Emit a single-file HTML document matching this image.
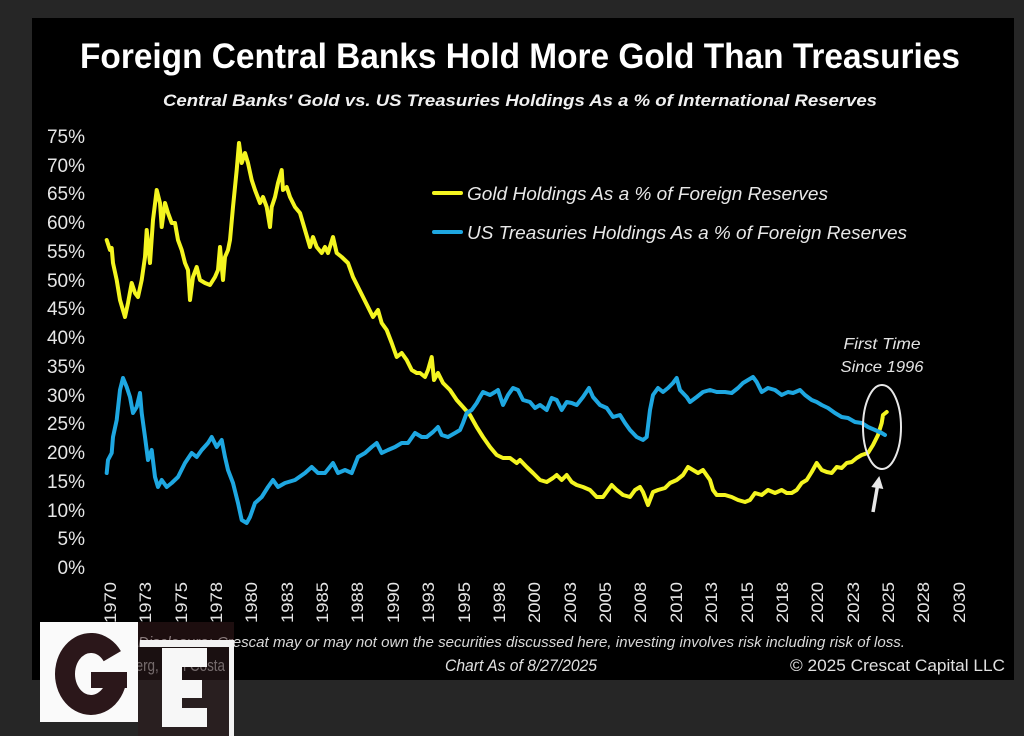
<!DOCTYPE html>
<html>
<head>
<meta charset="utf-8">
<style>
  html,body{margin:0;padding:0;background:#262626;}
  svg{display:block;}
  text{font-family:"Liberation Sans", "DejaVu Sans", sans-serif;}
</style>
</head>
<body>
<svg width="1024" height="736" viewBox="0 0 1024 736" xmlns="http://www.w3.org/2000/svg">
  <rect x="0" y="0" width="1024" height="736" fill="#262626"/>
  <rect x="32" y="18" width="982" height="662" fill="#000"/>

  <!-- Title -->
  <text x="520" y="68" text-anchor="middle" font-size="35" font-weight="bold" fill="#fff" textLength="880" lengthAdjust="spacingAndGlyphs">Foreign Central Banks Hold More Gold Than Treasuries</text>
  <text x="520" y="106" text-anchor="middle" font-size="17" font-weight="bold" font-style="italic" fill="#f0f0f0" textLength="714" lengthAdjust="spacingAndGlyphs">Central Banks' Gold vs. US Treasuries Holdings As a % of International Reserves</text>

  <!-- Y axis labels -->
  <g font-size="19" fill="#e6e6e6" text-anchor="end">
    <text x="85" y="143">75%</text>
    <text x="85" y="172">70%</text>
    <text x="85" y="200">65%</text>
    <text x="85" y="229">60%</text>
    <text x="85" y="258">55%</text>
    <text x="85" y="287">50%</text>
    <text x="85" y="315">45%</text>
    <text x="85" y="344">40%</text>
    <text x="85" y="373">35%</text>
    <text x="85" y="402">30%</text>
    <text x="85" y="430">25%</text>
    <text x="85" y="459">20%</text>
    <text x="85" y="488">15%</text>
    <text x="85" y="517">10%</text>
    <text x="85" y="545">5%</text>
    <text x="85" y="574">0%</text>
  </g>

  <!-- X axis labels -->
  <g font-size="17" fill="#e6e6e6">
    <text transform="translate(116,623) rotate(-90)" textLength="41" lengthAdjust="spacingAndGlyphs">1970</text>
    <text transform="translate(151,623) rotate(-90)" textLength="41" lengthAdjust="spacingAndGlyphs">1973</text>
    <text transform="translate(187,623) rotate(-90)" textLength="41" lengthAdjust="spacingAndGlyphs">1975</text>
    <text transform="translate(222,623) rotate(-90)" textLength="41" lengthAdjust="spacingAndGlyphs">1978</text>
    <text transform="translate(257,623) rotate(-90)" textLength="41" lengthAdjust="spacingAndGlyphs">1980</text>
    <text transform="translate(293,623) rotate(-90)" textLength="41" lengthAdjust="spacingAndGlyphs">1983</text>
    <text transform="translate(328,623) rotate(-90)" textLength="41" lengthAdjust="spacingAndGlyphs">1985</text>
    <text transform="translate(363,623) rotate(-90)" textLength="41" lengthAdjust="spacingAndGlyphs">1988</text>
    <text transform="translate(399,623) rotate(-90)" textLength="41" lengthAdjust="spacingAndGlyphs">1990</text>
    <text transform="translate(434,623) rotate(-90)" textLength="41" lengthAdjust="spacingAndGlyphs">1993</text>
    <text transform="translate(470,623) rotate(-90)" textLength="41" lengthAdjust="spacingAndGlyphs">1995</text>
    <text transform="translate(505,623) rotate(-90)" textLength="41" lengthAdjust="spacingAndGlyphs">1998</text>
    <text transform="translate(540,623) rotate(-90)" textLength="41" lengthAdjust="spacingAndGlyphs">2000</text>
    <text transform="translate(576,623) rotate(-90)" textLength="41" lengthAdjust="spacingAndGlyphs">2003</text>
    <text transform="translate(611,623) rotate(-90)" textLength="41" lengthAdjust="spacingAndGlyphs">2005</text>
    <text transform="translate(646,623) rotate(-90)" textLength="41" lengthAdjust="spacingAndGlyphs">2008</text>
    <text transform="translate(682,623) rotate(-90)" textLength="41" lengthAdjust="spacingAndGlyphs">2010</text>
    <text transform="translate(717,623) rotate(-90)" textLength="41" lengthAdjust="spacingAndGlyphs">2013</text>
    <text transform="translate(753,623) rotate(-90)" textLength="41" lengthAdjust="spacingAndGlyphs">2015</text>
    <text transform="translate(788,623) rotate(-90)" textLength="41" lengthAdjust="spacingAndGlyphs">2018</text>
    <text transform="translate(823,623) rotate(-90)" textLength="41" lengthAdjust="spacingAndGlyphs">2020</text>
    <text transform="translate(859,623) rotate(-90)" textLength="41" lengthAdjust="spacingAndGlyphs">2023</text>
    <text transform="translate(894,623) rotate(-90)" textLength="41" lengthAdjust="spacingAndGlyphs">2025</text>
    <text transform="translate(929,623) rotate(-90)" textLength="41" lengthAdjust="spacingAndGlyphs">2028</text>
    <text transform="translate(965,623) rotate(-90)" textLength="41" lengthAdjust="spacingAndGlyphs">2030</text>
  </g>

  <!-- Gold series -->
  <polyline fill="none" stroke="#f4f520" stroke-width="4" stroke-linejoin="round" stroke-linecap="round" points="
106.7,240 110,250 111.7,248 113,263 116.7,280 120,300 125,317 128,303 131.7,283 135,293 138,297 141.7,280 145,257 146.7,230 150,263 153,220 156.7,190 160,203 161.7,227 165,203 168,213 171.7,223 175,223 178,240 181.7,250 185,263 188,270 190,300 193,277 196.7,267 200,280 205,283 210,285 215,277 218,270 220,247 223,280 225,257 228,250 230,240 233,207 236.7,170 239,143 241.7,163 245,153 248,163 251.7,180 255,190 260,203 263,197 266.7,207 270,227 271.7,207 275,197 278,183 281.7,170 283,190 286.7,187 290,197 295,207 300,213 305,230 310,247 313,237 316.7,247 321.7,253 325,247 328,253 333,237 336.7,253 341.7,257 348,263 353,277 358,287 363,297 368,307 373,317 378,310 381.7,323 386.7,330 391.7,343 396.7,357 401.7,353 406.7,360 411.7,370 416.7,373 420,373 425,377 428,370 431.7,357 434,380 438,373 443,383 450,390 456.7,400 463,407 470,415 476.7,427 483,437 490,447 496.7,455 503,458 510,458 516.7,463 520,460 526.7,467 533,473 540,480 546.7,482 553,478 556.7,475 561.7,480 566.7,475 571.7,482 576.7,485 583,487 590,490 596.7,497 603,497 611.7,485 616.7,490 623,495 630,497 635,490 640,487 643,492 648,505 653,492 658,490 665,488 670,483 676.7,480 683,475 688,467 693,470 698,473 703,470 710,480 713,490 716.7,495 720,495 725,495 731.7,497 738,500 745,502 750,500 755,493 761.7,495 768,490 775,493 781.7,490 786.7,493 791.7,493 796.7,490 801.7,483 806.7,480 811.7,472 816.7,463 821.7,470 826.7,472 831.7,473 836.7,467 841.7,468 846.7,463 851.7,462 856.7,458 861.7,455 868,453 873,445 878,435 881.7,423 883,415 886.7,412"/>

  <!-- Treasuries series -->
  <polyline fill="none" stroke="#1ea7e1" stroke-width="4" stroke-linejoin="round" stroke-linecap="round" points="
106.7,473 108,460 111.7,453 113,437 116.7,420 120,390 123,378 126.7,387 130,397 133,413 136.7,407 140,393 141.7,413 145,437 148,460 151.7,450 155,477 158,487 161.7,480 166.7,487 171.7,483 178,477 185,463 191.7,453 196.7,457 201.7,450 208,443 211.7,437 216.7,447 221.7,440 225,457 228,470 233,483 238,503 241.7,520 246.7,523 250,517 255,503 261.7,497 268,487 273,480 278,487 285,483 295,480 305,473 311.7,467 318,473 325,473 333,463 338,473 345,470 351.7,473 358,457 365,453 371.7,447 376.7,443 381.7,453 388,450 395,447 401.7,443 408,443 415,433 421.7,437 426.7,437 433,432 438,427 441.7,435 448,437 455,433 460,430 463,423 466.7,413 471.7,410 476.7,403 480,397 483,392 490,395 495,392 498,390 503,405 508,395 513,388 518,390 523,400 530,402 535,408 540,405 546.7,410 551.7,398 556.7,400 561.7,410 566.7,402 571.7,403 576.7,405 583,397 589,388 593,397 600,405 606.7,408 613,417 620,415 625,423 630,430 636.7,437 643,440 646.7,437 650,410 653,395 658,388 663,392 668,388 673,383 676.7,378 680,390 686.7,397 690,402 696.7,397 703,392 710,390 716.7,392 720,392 725,392 731.7,393 738,388 743,383 748,380 753,377 756.7,382 761.7,392 768,388 775,390 781.7,395 788,392 793,393 800,390 805,395 811.7,400 816.7,402 821.7,405 828,408 835,413 841.7,417 848,418 855,422 861.7,423 868,427 875,430 881.7,433 885,435"/>

  <!-- Legend -->
  <line x1="434" y1="193" x2="461" y2="193" stroke="#f4f520" stroke-width="4" stroke-linecap="round"/>
  <line x1="434" y1="232" x2="461" y2="232" stroke="#1ea7e1" stroke-width="4" stroke-linecap="round"/>
  <text x="467" y="200" font-size="18" font-style="italic" fill="#e8e8e8" textLength="361" lengthAdjust="spacingAndGlyphs">Gold Holdings As a % of Foreign Reserves</text>
  <text x="467" y="239" font-size="18" font-style="italic" fill="#e8e8e8" textLength="440" lengthAdjust="spacingAndGlyphs">US Treasuries Holdings As a % of Foreign Reserves</text>

  <!-- Annotation -->
  <text x="882" y="349" text-anchor="middle" font-size="16" font-style="italic" fill="#e4e4e4" textLength="77" lengthAdjust="spacingAndGlyphs">First Time</text>
  <text x="882" y="372" text-anchor="middle" font-size="16" font-style="italic" fill="#e4e4e4" textLength="83" lengthAdjust="spacingAndGlyphs">Since 1996</text>
  <ellipse cx="882" cy="427" rx="19" ry="42" fill="none" stroke="#e8e8e8" stroke-width="2"/>
  <line x1="873" y1="512" x2="877.5" y2="486" stroke="#e8e8e8" stroke-width="3.5"/>
  <polygon points="879.3,476 883.3,489 871.3,487" fill="#e8e8e8"/>

  <!-- Footer -->
  <text x="138" y="647" font-size="15" font-style="italic" fill="#d8d8d8" textLength="767" lengthAdjust="spacingAndGlyphs">Disclosure: Crescat may or may not own the securities discussed here, investing involves risk including risk of loss.</text>
  <text x="40" y="671" font-size="17" fill="#e0e0e0" textLength="185" lengthAdjust="spacingAndGlyphs">Source: Bloomberg, Tavi Costa</text>
  <text x="521" y="671" text-anchor="middle" font-size="17" font-style="italic" fill="#e0e0e0" textLength="152" lengthAdjust="spacingAndGlyphs">Chart As of 8/27/2025</text>
  <text x="1005" y="671" text-anchor="end" font-size="17" fill="#e0e0e0" textLength="215" lengthAdjust="spacingAndGlyphs">© 2025 Crescat Capital LLC</text>

  <!-- GE logo -->
  <rect x="138" y="622" width="96" height="18" fill="#3a1c1e" opacity="0.5"/>
  <rect x="40" y="622" width="98" height="100" fill="#fafafa"/>
  <path d="M112.3,656.2 A26,31 0 1 0 116.6,679.4" fill="none" stroke="#2b171a" stroke-width="20"/>
  <rect x="91" y="672" width="36" height="16" fill="#2b171a"/>
  <rect x="138" y="640" width="96" height="96" fill="#2b1a1c" opacity="0.6"/>
  <rect x="140" y="640" width="94" height="7" fill="#f2f2f2"/>
  <rect x="229" y="640" width="5" height="96" fill="#f2f2f2"/>
  <rect x="162" y="648" width="20" height="79" fill="#f7f7f7"/>
  <rect x="162" y="648" width="45" height="19" fill="#f7f7f7"/>
  <rect x="162" y="680" width="40" height="18" fill="#f7f7f7"/>
  <rect x="162" y="708" width="45" height="19" fill="#f7f7f7"/>
</svg>
</body>
</html>
